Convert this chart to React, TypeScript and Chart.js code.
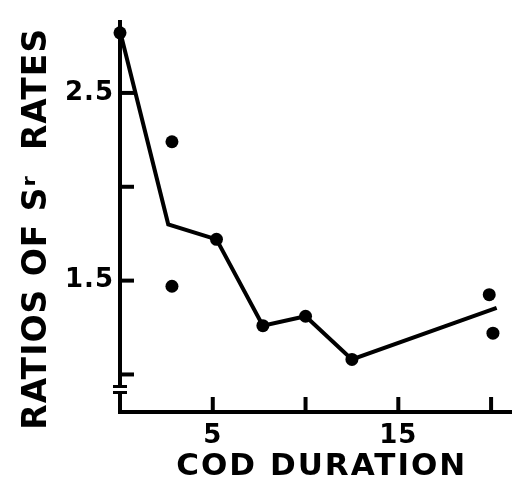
import React, { useEffect, useRef } from 'react';
import { Chart, registerables } from 'chart.js';

Chart.register(...registerables);

const lineX = [0, 2.6, 5.2, 7.7, 10.0, 12.5, 20.3];
const lineY = [2.83, 1.8, 1.72, 1.26, 1.31, 1.08, 1.355];
const dotX = [0, 2.8, 2.8, 5.2, 7.7, 10.0, 12.5, 19.9, 20.1];
const dotY = [2.82, 2.24, 1.47, 1.72, 1.26, 1.31, 1.08, 1.425, 1.22];
const xTickValues = [5, 10, 15, 20];
const xTickLabels = ['5', '', '15', ''];
const yTickValues = [1.0, 1.5, 2.0, 2.5];
const yTickLabels = ['', '1.5', '', '2.5'];
const xTitle = 'COD DURATION';
const yTitle = 'RATIOS OF Sʳ  RATES';
const xMin = 0;
const xMax = 21.1;
const yMin = 0.8;
const yMax = 2.88;
const axisBreakValue = 0.92;

const FONT = "'DejaVu Sans', 'Liberation Sans', sans-serif";

const decorPlugin = {
  id: 'decor',
  beforeDraw(chart: any) {
    chart.ctx.letterSpacing = '1px';
  },
  afterDraw(chart: any) {
    const { ctx, chartArea, scales } = chart;
    const x = scales.x;
    const y = scales.y;
    ctx.save();
    ctx.strokeStyle = '#000';
    ctx.lineWidth = 4;
    ctx.lineCap = 'butt';
    y.ticks.forEach((t: any) => {
      const py = y.getPixelForValue(t.value);
      ctx.beginPath();
      ctx.moveTo(chartArea.left, py);
      ctx.lineTo(chartArea.left + 14, py);
      ctx.stroke();
    });
    x.ticks.forEach((t: any) => {
      const px = x.getPixelForValue(t.value);
      ctx.beginPath();
      ctx.moveTo(px, chartArea.bottom);
      ctx.lineTo(px, chartArea.bottom - 15);
      ctx.stroke();
    });
    // axis break
    const by = y.getPixelForValue(axisBreakValue);
    ctx.fillStyle = '#fff';
    ctx.fillRect(chartArea.left - 3, by - 2, 6, 4);
    ctx.lineWidth = 3;
    ctx.beginPath();
    ctx.moveTo(chartArea.left - 7, by - 3);
    ctx.lineTo(chartArea.left + 7, by - 3);
    ctx.moveTo(chartArea.left - 7, by + 3);
    ctx.lineTo(chartArea.left + 7, by + 3);
    ctx.stroke();

    // axis titles
    ctx.fillStyle = '#000';
    ctx.textAlign = 'center';
    ctx.textBaseline = 'middle';
    ctx.font = `bold 31px ${FONT}`;
    ctx.letterSpacing = '2px';
    ctx.fillText(xTitle, (chartArea.left + chartArea.right) / 2 + 6, chartArea.bottom + 55);

    ctx.font = `bold 33px ${FONT}`;
    ctx.letterSpacing = '1px';
    ctx.translate(37, (chartArea.top + chartArea.bottom) / 2 + 12);
    ctx.rotate(-Math.PI / 2);
    ctx.fillText(yTitle, 0, 0);
    ctx.restore();
  },
};

export default function App() {
  const ref = useRef<HTMLCanvasElement | null>(null);

  useEffect(() => {
    if (!ref.current) return;
    const chart = new Chart(ref.current, {
      type: 'scatter',
      data: {
        datasets: [
          {
            type: 'line',
            data: lineX.map((v, i) => ({ x: v, y: lineY[i] })),
            borderColor: '#000',
            borderWidth: 4,
            pointRadius: 0,
            fill: false,
            tension: 0,
            clip: false,
          } as any,
          {
            type: 'scatter',
            data: dotX.map((v, i) => ({ x: v, y: dotY[i] })),
            backgroundColor: '#000',
            borderColor: '#000',
            pointRadius: 6.5,
            borderWidth: 0,
            clip: false,
          } as any,
        ],
      },
      options: {
        responsive: false,
        animation: false,
        layout: { padding: { top: 15, right: 0, left: 0, bottom: 0 } },
        plugins: {
          legend: { display: false },
          tooltip: { enabled: false },
        },
        scales: {
          x: {
            type: 'linear',
            min: xMin,
            max: xMax,
            afterFit: (s: any) => {
              s.height = 76;
            },
            afterBuildTicks: (s: any) => {
              s.ticks = xTickValues.map((v) => ({ value: v }));
            },
            grid: { display: false, drawTicks: false },
            border: { display: true, color: '#000', width: 4 },
            ticks: {
              color: '#000',
              padding: 10,
              maxRotation: 0,
              autoSkip: false,
              font: { family: FONT, size: 26, weight: 'bold', lineHeight: 1.1 },
              callback: (v: any) => {
                const i = xTickValues.indexOf(Number(v));
                return i >= 0 ? xTickLabels[i] : '';
              },
            },
            title: { display: false, text: xTitle },
          },
          y: {
            type: 'linear',
            min: yMin,
            max: yMax,
            afterFit: (s: any) => {
              s.width = 120;
            },
            afterBuildTicks: (s: any) => {
              s.ticks = yTickValues.map((v) => ({ value: v }));
            },
            grid: { display: false, drawTicks: false },
            border: { display: true, color: '#000', width: 4 },
            ticks: {
              color: '#000',
              padding: 6,
              autoSkip: false,
              font: { family: FONT, size: 26, weight: 'bold' },
              callback: (v: any) => {
                const i = yTickValues.findIndex((t) => Math.abs(t - Number(v)) < 1e-6);
                return i >= 0 ? yTickLabels[i] : '';
              },
            },
            title: { display: false, text: yTitle },
          },
        },
      },
      plugins: [decorPlugin],
    });
    return () => chart.destroy();
  }, []);

  return (
    <div style={{ position: 'absolute', left: 0, top: 0, width: 518, height: 488, background: '#fff' }}>
      <canvas ref={ref} width={518} height={488} />
    </div>
  );
}
